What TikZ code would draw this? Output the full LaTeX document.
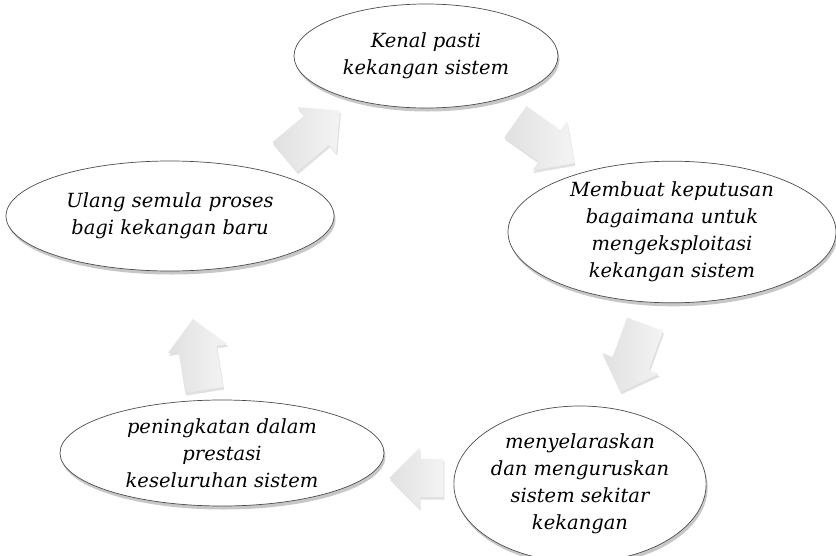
\documentclass[tikz,border=0pt]{standalone}
\usepackage{fontspec}
\setmainfont{DejaVu Serif}
\usetikzlibrary{shapes.geometric,shapes.arrows,shadows}
\newfontfamily\ellfont{DejaVu Serif}
\tikzset{
  ell/.style={ellipse, draw=gray!60!black, line width=0.7pt, fill=white,
    inner sep=0pt, align=center,
    font=\ellfont\itshape\fontsize{19.5}{27}\selectfont,
    drop shadow={shadow xshift=1.5pt, shadow yshift=-3.5pt, fill=black, opacity=0.22}},
  garrow/.style={single arrow, draw=none, inner xsep=0pt, inner ysep=19pt,
    minimum height=72pt, single arrow head extend=11pt,
    single arrow head indent=0pt,
    left color=gray!24, right color=gray!9,
    drop shadow={shadow xshift=1pt, shadow yshift=-2.5pt, fill=black, opacity=0.12}}
}
\begin{document}
\begin{tikzpicture}[x=1pt,y=1pt]
\useasboundingbox[fill=white] (0,0) rectangle (836,-555);

\node[ell, minimum width=264pt, minimum height=104pt] (a) at (426,-56)
  {Kenal pasti\\kekangan sistem};
\node[ell, minimum width=328pt, minimum height=138pt] (b) at (672,-232)
  {Membuat keputusan\\bagaimana untuk\\mengeksploitasi\\kekangan sistem};
\node[ell, minimum width=230pt, minimum height=156pt] (c) at (580,-484)
  {menyelaraskan\\dan menguruskan\\sistem sekitar\\kekangan};
\node[ell, minimum width=324pt, minimum height=106pt] (d) at (222,-453)
  {peningkatan dalam\\prestasi\\keseluruhan sistem};
\node[ell, minimum width=328pt, minimum height=110pt] (e) at (170,-216)
  {Ulang semula proses\\bagi kekangan baru};

\node[garrow, rotate=40] (ea) at (305,-140) {};
\node[garrow, rotate=-35] (ab) at (537,-137) {};
\node[garrow, rotate=-110] (bc) at (636,-349) {};
\node[garrow, rotate=180, minimum height=54pt] (cd) at (426,-478) {};
\node[garrow, rotate=99] (de) at (200,-364) {};
\end{tikzpicture}
\end{document}
